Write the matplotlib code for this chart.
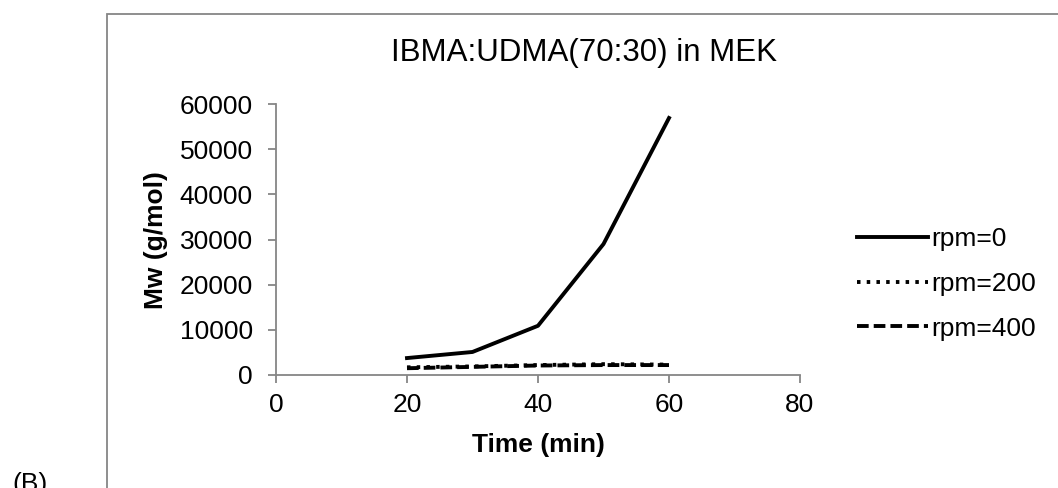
import matplotlib
matplotlib.use("Agg")
import matplotlib.pyplot as plt
from matplotlib.patches import Rectangle

plt.rcParams['font.family'] = ['Liberation Sans', 'DejaVu Sans']

time = [20, 30, 40, 50, 60]
rpm0 = [3750, 5100, 10900, 29000, 56900]
rpm200 = [1700, 1900, 2200, 2400, 2300]
rpm400 = [1500, 1800, 2100, 2200, 2200]
labels = ["rpm=0", "rpm=200", "rpm=400"]
title = "IBMA:UDMA(70:30) in MEK"

W, H = 1058, 488
L, R, B, T = 276, 800, 375, 104
fig = plt.figure(figsize=(W/100, H/100), dpi=100)
ax = fig.add_axes([L/W, 1-B/H, (R-L)/W, (B-T)/H])

lw = 2.8
ax.plot(time, rpm0, color='black', lw=lw, linestyle='-', label=labels[0])
ax.plot(time, rpm200, color='black', lw=lw, linestyle=(0, (0.9, 1.6)), label=labels[1])
ax.plot(time, rpm400, color='black', lw=lw, linestyle=(0, (3, 1.3)), label=labels[2])

ax.set_xlim(0, 80)
ax.set_ylim(0, 60000)
ax.set_xticks([0, 20, 40, 60, 80])
ax.set_yticks(range(0, 60001, 10000))
gray = '#868686'
for s in ['top', 'right']:
    ax.spines[s].set_visible(False)
for s in ['left', 'bottom']:
    ax.spines[s].set_color(gray)
    ax.spines[s].set_linewidth(1.3)
ax.tick_params(axis='both', colors=gray, labelcolor='black', labelsize=19,
               length=5.8, width=1.3, direction='out')
ax.tick_params(axis='x', pad=7)
ax.tick_params(axis='y', pad=11)

ax.set_xlabel("Time (min)", fontsize=19, fontweight='bold')
ax.set_ylabel("Mw (g/mol)", fontsize=19, fontweight='bold')
ax.xaxis.label.set_va('center')
ax.yaxis.label.set_va('center')
ax.xaxis.set_label_coords(0.5, (B-445)/(B-T))
ax.yaxis.set_label_coords((156-L)/(R-L), (B-240)/(B-T))

fig.text(584/W, 1-53/H, title, ha='center', va='center', fontsize=22.5)

fig.legend(loc='center left', bbox_to_anchor=(857/W, 1-284/H), frameon=False,
           fontsize=19, handlelength=2.7, handletextpad=0.1, labelspacing=0.78,
           borderpad=0, borderaxespad=0)

fig.patches.append(Rectangle((107/W, -0.05), 1.0, 1-14/H+0.05, transform=fig.transFigure,
                             fill=False, edgecolor=gray, lw=1.3, clip_on=False))
fig.text(12/W, 1-472/H, "(B)", fontsize=19, ha='left', va='top')

fig.savefig("out.png", dpi=100)
